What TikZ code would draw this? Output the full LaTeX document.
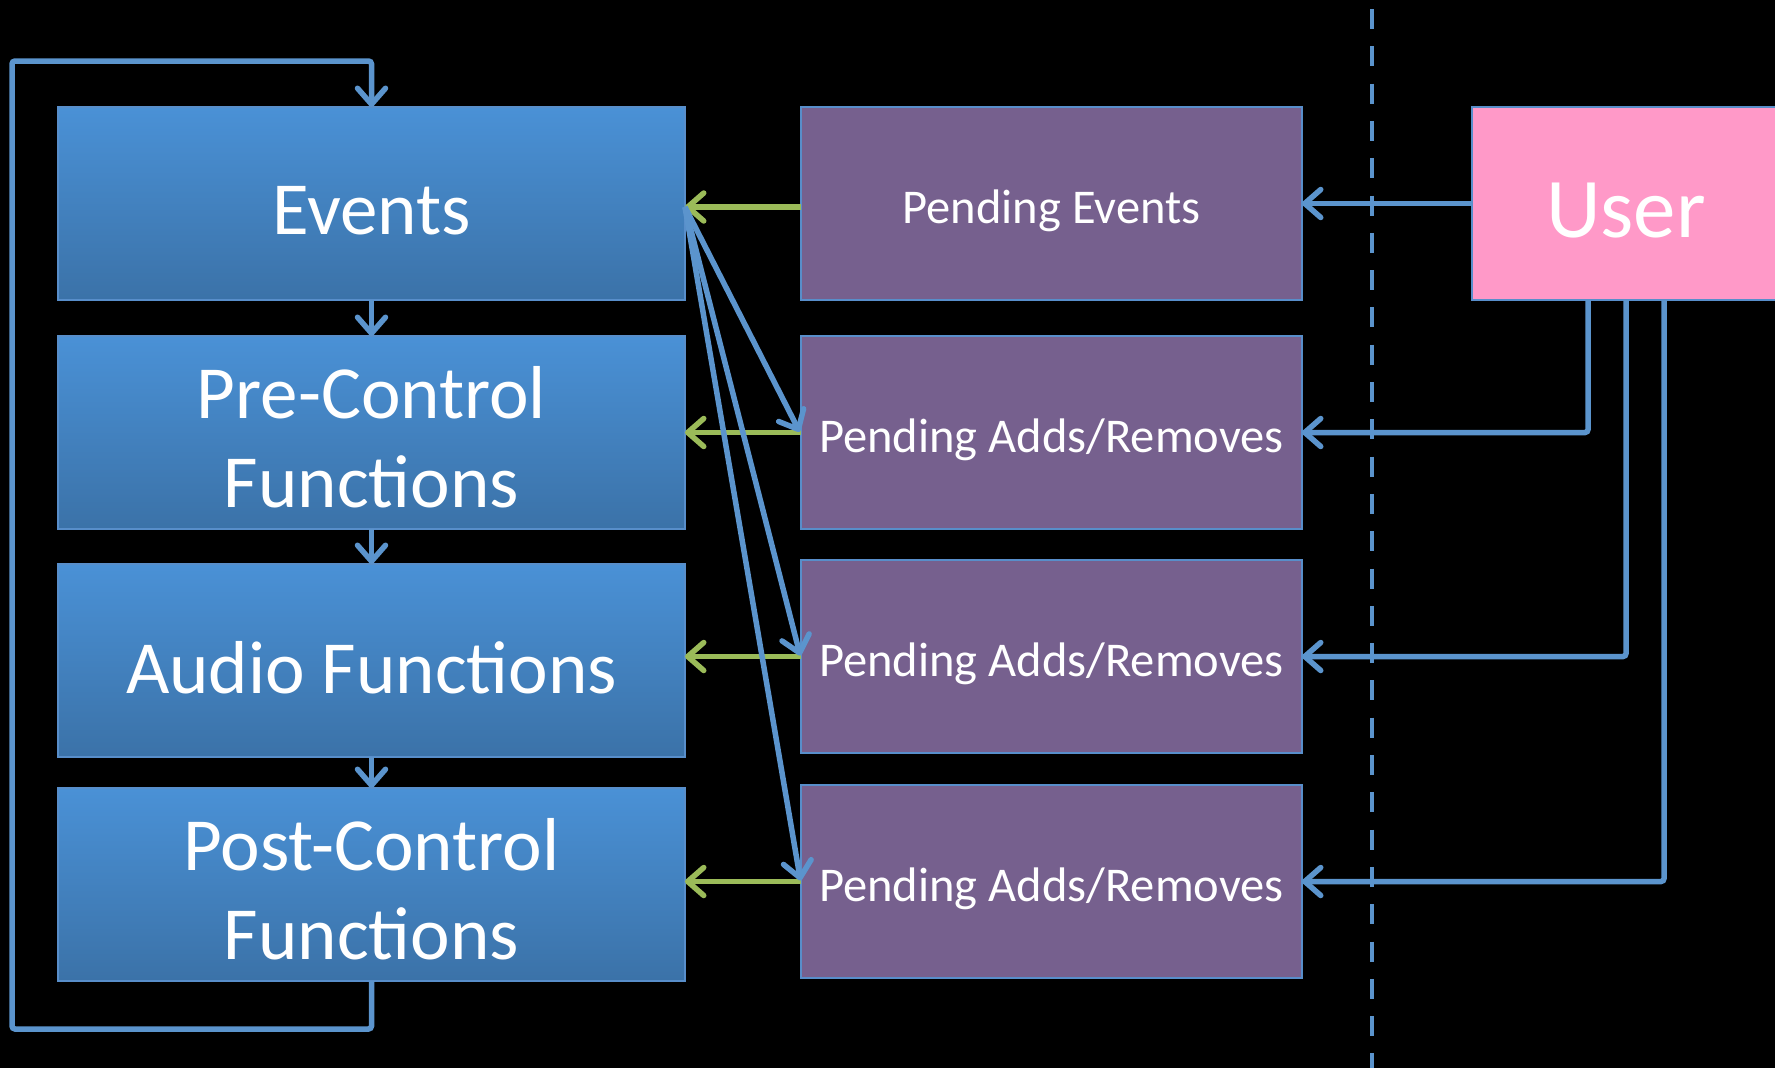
\documentclass[tikz,border=0pt]{standalone}
\usepackage{fontspec}
\setmainfont{Carlito}
\usetikzlibrary{arrows.meta}
\definecolor{boxtop}{RGB}{74,145,214}
\definecolor{boxbot}{RGB}{59,114,168}
\definecolor{boxline}{RGB}{88,142,202}
\definecolor{pendfill}{RGB}{118,96,142}
\definecolor{userfill}{RGB}{255,153,200}
\definecolor{connblue}{RGB}{91,148,205}
\definecolor{conngreen}{RGB}{155,187,89}
\newcommand{\lowertext}[2][7pt]{\raisebox{-#1}[\height][\depth]{#2}}
\newcommand{\twolines}[2]{\lowertext[13pt]{\begin{tabular}{@{}c@{}}#1\\#2\end{tabular}}}
\tikzset{
  bluebox/.style={draw=boxline, line width=2pt, top color=boxtop, bottom color=boxbot,
    minimum width=627pt, minimum height=193pt, inner sep=0pt, outer sep=0pt,
    anchor=north west, text=white},
  pendbox/.style={draw=boxline, line width=2pt, fill=pendfill,
    minimum width=501pt, minimum height=193pt, inner sep=0pt, outer sep=0pt,
    anchor=north west, text=white, font=\fontsize{48.5}{58}\selectfont},
  userbox/.style={draw=boxline, line width=2pt, fill=userfill,
    minimum width=340pt, minimum height=193pt, inner sep=0pt, outer sep=0pt,
    anchor=north west, text=white},
  bluearrow/.style={draw=connblue, line width=5.5pt,
    -{Straight Barb[length=16pt,width=28pt,round]}},
  greenarrow/.style={draw=conngreen, line width=5.5pt,
    -{Straight Barb[length=16pt,width=28pt,round]}},
  bigtext/.style={font=\fontsize{75}{89}\selectfont},
}
\begin{document}
\begin{tikzpicture}[x=1pt,y=-1pt]
\fill[black] (0,0) rectangle (1775,1068);
\useasboundingbox (0,0) rectangle (1775,1068);

% dashed divider
\draw[connblue, line width=4.5pt, dash pattern=on 20pt off 17.3pt] (1372,9) -- (1372,1068);

% left column
\node[bluebox, bigtext] (ev) at (58,107) {\lowertext{Events}};
\node[bluebox, bigtext] (pre) at (58,336) {\twolines{Pre-Control}{Functions}};
\node[bluebox, bigtext] (aud) at (58,564) {\lowertext{Audio Functions}};
\node[bluebox, bigtext] (post) at (58,788) {\twolines{Post-Control}{Functions}};

% middle column
\node[pendbox] (pe) at (801,107) {\lowertext{Pending Events}};
\node[pendbox] (pa1) at (801,336) {\lowertext{Pending Adds/Removes}};
\node[pendbox] (pa2) at (801,560) {\lowertext{Pending Adds/Removes}};
\node[pendbox] (pa3) at (801,785) {\lowertext{Pending Adds/Removes}};

% user
\node[userbox, font=\fontsize{85}{100}\selectfont] (user) at (1472,107) {\hspace*{-32pt}\lowertext{User}};

% helper coordinates
\coordinate (g1) at (0,207);
\coordinate (lb) at (12,1029);
\coordinate (lt) at (12,61);

% vertical flow
\draw[bluearrow] (ev.south) -- (pre.north);
\draw[bluearrow] (pre.south) -- (aud.north);
\draw[bluearrow] (aud.south) -- (post.north);
\draw[bluearrow, rounded corners=3pt] (post.south) |- (lb) -- (lt) -| (ev.north);

% green arrows
\draw[greenarrow] (pe.west |- g1) -- (ev.east |- g1);
\draw[greenarrow] (pa1.west) -- (pa1.west -| ev.east);
\draw[greenarrow] (pa2.west) -- (pa2.west -| ev.east);
\draw[greenarrow] (pa3.west) -- (pa3.west -| ev.east);

% diagonal arrows
\draw[bluearrow, shorten >=3pt] (ev.east |- g1) -- ([yshift=-2pt]pa1.west);
\draw[bluearrow, shorten >=3pt] (ev.east |- g1) -- ([yshift=-2pt]pa2.west);
\draw[bluearrow, shorten >=3pt] (ev.east |- g1) -- ([yshift=-2pt]pa3.west);

% user arrows
\draw[bluearrow] (user.west) -- (pe.east);
\draw[bluearrow, rounded corners=3pt] ([xshift=116pt]user.south west) |- (pa1.east);
\draw[bluearrow, rounded corners=3pt] ([xshift=154pt]user.south west) |- (pa2.east);
\draw[bluearrow, rounded corners=3pt] ([xshift=192pt]user.south west) |- (pa3.east);
\end{tikzpicture}
\end{document}
